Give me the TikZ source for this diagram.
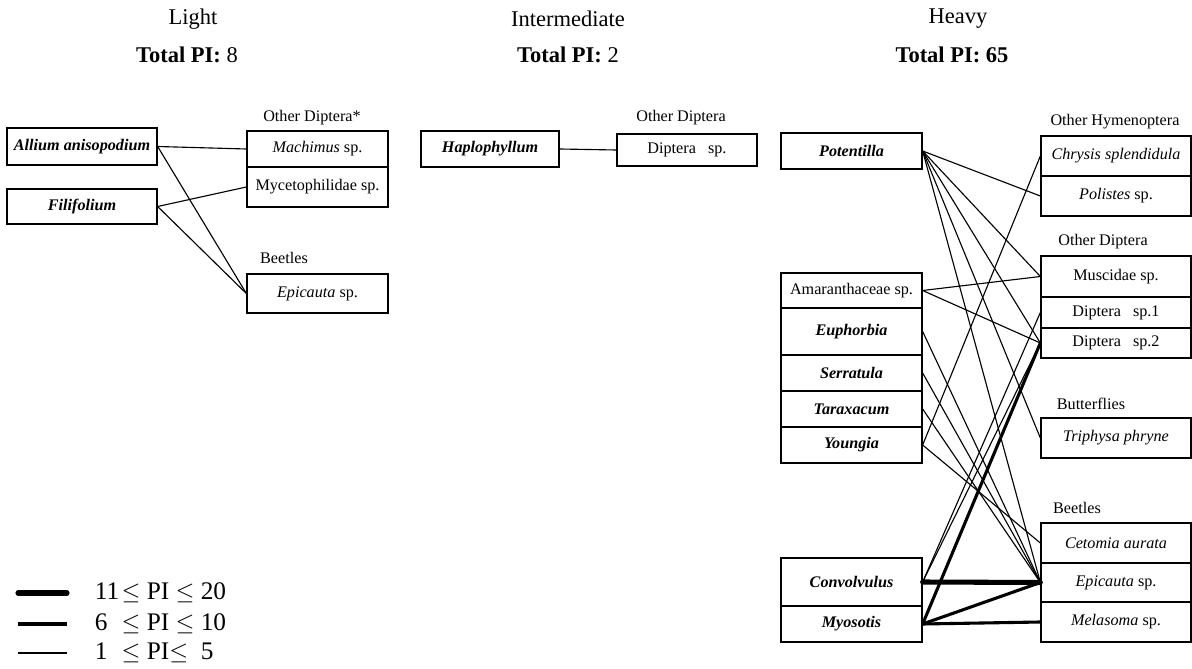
\documentclass[tikz,border=0pt]{standalone}
\usepackage{fontspec}
\setmainfont{Liberation Serif}
\newcommand{\spbi}[1]{\textbf{\textit{#1}}}
\begin{document}
\begin{tikzpicture}[x=0.025cm,y=-0.025cm,
  box/.style={draw,line width=0.9pt,inner sep=0pt,font=\fontsize{11.5}{13}\selectfont},
  grp/.style={font=\fontsize{11.5}{13}\selectfont},
  ttl/.style={font=\fontsize{16}{19}\selectfont},
  pione/.style={line width=0.8pt},
  pitwo/.style={line width=2.2pt},
  pithree/.style={line width=3.6pt,line cap=round}]
\useasboundingbox (0,0) rectangle (1192,669);

\node[ttl] (tl) at (193,19) {Light};
\node[ttl] (tlpi) at (187,55) {\textbf{Total PI:} 8};
\node[ttl] (ti) at (568,19) {Intermediate};
\node[ttl] (tipi) at (568,55) {\textbf{Total PI:} 2};
\node[ttl] (th) at (958,19) {Heavy};
\node[ttl] (thpi) at (952,55) {\textbf{Total PI: 65}};

\node[box,minimum width=3.75cm,minimum height=0.925cm] (allium) at (82,146.5) {\spbi{Allium anisopodium}};
\node[box,minimum width=3.75cm,minimum height=0.875cm] (filif) at (82,206.5) {\spbi{Filifolium}};
\node[grp] (gldip) at (312,118) {Other Diptera*};
\node[box,minimum width=3.525cm,minimum height=0.9cm] (machim) at (317.5,149) {\textit{Machimus} sp.};
\node[box,minimum width=3.525cm,minimum height=1cm] (myceto) at (317.5,187) {Mycetophilidae sp.};
\node[grp] (glbeet) at (284,258) {Beetles};
\node[box,minimum width=3.525cm,minimum height=0.975cm] (epil) at (317.5,293.5) {\textit{Epicauta} sp.};

\draw[pione] (allium.east) -- (machim.west);
\draw[pione] (allium.east) -- (epil.west);
\draw[pione] (filif.east) -- (myceto.west);
\draw[pione] (filif.east) -- (epil.west);

\node[box,minimum width=3.45cm,minimum height=0.9cm] (haplo) at (490,149) {\spbi{Haplophyllum}};
\node[grp] (gidip) at (681,118) {Other Diptera};
\node[box,minimum width=3.5cm,minimum height=0.8cm] (dipi) at (687,150) {Diptera\ \ \ sp.};

\draw[pione] (haplo.east) -- (dipi.west);

\node[box,minimum width=3.525cm,minimum height=0.9cm] (potent) at (851.5,151) {\spbi{Potentilla}};
\node[box,minimum width=3.525cm,minimum height=0.875cm] (amar) at (851.5,290.5) {Amaranthaceae sp.};
\node[box,minimum width=3.525cm,minimum height=1.175cm] (euph) at (851.5,331.5) {\spbi{Euphorbia}};
\node[box,minimum width=3.525cm,minimum height=0.9cm] (serrat) at (851.5,373) {\spbi{Serratula}};
\node[box,minimum width=3.525cm,minimum height=0.9cm] (tarax) at (851.5,409) {\spbi{Taraxacum}};
\node[box,minimum width=3.525cm,minimum height=0.9cm] (young) at (851.5,445) {\spbi{Youngia}};
\node[box,minimum width=3.525cm,minimum height=1.2cm] (convol) at (851.5,582) {\spbi{Convolvulus}};
\node[box,minimum width=3.525cm,minimum height=0.9cm] (myosot) at (851.5,624) {\spbi{Myosotis}};

\node[grp] (ghhym) at (1115,122) {Other Hymenoptera};
\node[box,minimum width=3.75cm,minimum height=1cm] (chrys) at (1116,156) {\textit{Chrysis splendidula}};
\node[box,minimum width=3.75cm,minimum height=1cm] (polist) at (1116,196) {\textit{Polistes} sp.};
\node[grp] (ghdip) at (1103,242) {Other Diptera};
\node[box,minimum width=3.75cm,minimum height=1.025cm] (muscid) at (1116,276.5) {Muscidae sp.};
\node[box,minimum width=3.75cm,minimum height=0.775cm] (dipone) at (1116,312.5) {Diptera\ \ \ sp.1};
\node[box,minimum width=3.75cm,minimum height=0.75cm] (diptwo) at (1116,343) {Diptera\ \ \ sp.2};
\node[grp] (ghbut) at (1091,404) {Butterflies};
\node[box,minimum width=3.75cm,minimum height=1cm] (triph) at (1116,438) {\textit{Triphysa phryne}};
\node[grp] (ghbeet) at (1077,508) {Beetles};
\node[box,minimum width=3.75cm,minimum height=1cm] (cetom) at (1116,543) {\textit{Cetomia aurata}};
\node[box,minimum width=3.75cm,minimum height=0.975cm] (epih) at (1116,582.5) {\textit{Epicauta} sp.};
\node[box,minimum width=3.75cm,minimum height=1cm] (melas) at (1116,622) {\textit{Melasoma} sp.};

\draw[pione] (potent.east) -- (polist.west);
\draw[pione] (potent.east) -- (muscid.west);
\draw[pione] (potent.east) -- (diptwo.west);
\draw[pione] (potent.east) -- (triph.west);
\draw[pione] (potent.east) -- (epih.west);
\draw[pione] (amar.east) -- (muscid.west);
\draw[pione] (amar.east) -- (diptwo.west);
\draw[pione] (euph.east) -- (epih.west);
\draw[pione] (serrat.east) -- (epih.west);
\draw[pione] (tarax.east) -- (epih.west);
\draw[pione] (young.east) -- (chrys.west);
\draw[pione] (young.east) -- (cetom.west);
\draw[pione] (convol.east) -- (dipone.west);
\draw[pione] (convol.east) -- (diptwo.west);
\draw[pitwo] (myosot.east) -- (diptwo.west);
\draw[pitwo] (myosot.east) -- (epih.west);
\draw[pitwo] (myosot.east) -- (melas.west);
\draw[pithree] (convol.east) -- (epih.west);

\coordinate (kaa) at (18,593);
\coordinate (kab) at (67,593);
\coordinate (kba) at (18,624);
\coordinate (kbb) at (67,624);
\coordinate (kca) at (18,653);
\coordinate (kcb) at (67,653);
\draw[pithree] (kaa) -- (kab);
\draw[pitwo] (kba) -- (kbb);
\draw[pione] (kca) -- (kcb);
\node[anchor=west,font=\fontsize{18}{20}\selectfont] (kat) at (90,593) {\makebox[1.05em][l]{11}$\leq$ PI $\leq$ 20};
\node[anchor=west,font=\fontsize{18}{20}\selectfont] (kbt) at (90,624) {\makebox[1.05em][l]{6}$\leq$ PI $\leq$ 10};
\node[anchor=west,font=\fontsize{18}{20}\selectfont] (kct) at (90,653) {\makebox[1.05em][l]{1}$\leq$ PI$\leq$\ \ 5};
\end{tikzpicture}
\end{document}
